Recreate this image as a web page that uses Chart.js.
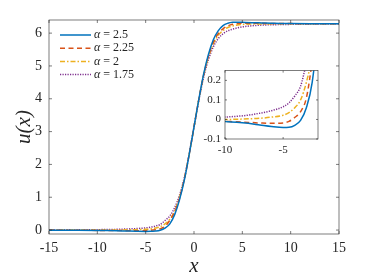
<!DOCTYPE html>
<html>
<head>
<meta charset="utf-8">
<script src="https://cdn.jsdelivr.net/npm/chart.js@4.4.1/dist/chart.umd.min.js"></script>
<style>
  html, body { margin: 0; padding: 0; background: #fff; }
  #wrap { position: relative; width: 374px; height: 280px; }
  #main { position: absolute; left: 0; top: 0; }
  #inset { position: absolute; left: 190px; top: 60px; }
</style>
</head>
<body>
<div id="wrap">
  <canvas id="main" width="374" height="280"></canvas>
  <canvas id="inset" width="135" height="100"></canvas>
</div>
<script>
// x sample points
const X_VALUES = [-15, -12, -10, -9, -8, -7, -6, -5, -4.5, -4, -3.5, -3, -2.5, -2, -1.5, -1, -0.5, 0,
    0.5, 1, 1.5, 2, 2.5, 3, 3.5, 4, 4.5, 5, 6, 7, 8, 9, 10, 12, 15];

// u(x) for each alpha
const U_ALPHA_250 = [-0.002, -0.005, -0.01, -0.014, -0.02, -0.028, -0.036, -0.041, -0.04, -0.03, -0.005, 0.06, 0.19, 0.47, 0.92, 1.52, 2.3, 3.14,
    3.98, 4.76, 5.36, 5.8, 6.07, 6.23, 6.3, 6.33, 6.335, 6.33, 6.32, 6.312, 6.304, 6.297, 6.293, 6.288, 6.285];
const U_ALPHA_225 = [0.0, -0.005, -0.01, -0.012, -0.015, -0.018, -0.02, -0.018, -0.01, 0.01, 0.04, 0.11, 0.3, 0.55, 0.97, 1.55, 2.3, 3.14,
    3.98, 4.73, 5.3, 5.72, 5.98, 6.13, 6.22, 6.27, 6.29, 6.3, 6.3, 6.298, 6.295, 6.292, 6.29, 6.287, 6.285];
const U_ALPHA_200 = [0.0, 0.0, 0.0, 0.001, 0.003, 0.006, 0.012, 0.022, 0.035, 0.06, 0.1, 0.19, 0.33, 0.58, 0.99, 1.56, 2.3, 3.14,
    3.98, 4.72, 5.28, 5.68, 5.93, 6.08, 6.17, 6.22, 6.25, 6.265, 6.276, 6.28, 6.282, 6.283, 6.283, 6.283, 6.283];
const U_ALPHA_175 = [0.004, 0.008, 0.012, 0.016, 0.022, 0.032, 0.045, 0.065, 0.085, 0.12, 0.17, 0.29, 0.43, 0.68, 1.06, 1.6, 2.32, 3.14,
    3.96, 4.66, 5.2, 5.58, 5.83, 5.98, 6.07, 6.12, 6.16, 6.19, 6.225, 6.245, 6.255, 6.262, 6.267, 6.274, 6.279];

const ALPHA_LABELS = ['2.5', '2.25', '2', '1.75'];

const MAIN_X_TICKS = [-15, -10, -5, 0, 5, 10, 15];
const MAIN_Y_TICKS = [0, 1, 2, 3, 4, 5, 6];
const INSET_X_TICKS = [-10, -5];
const INSET_Y_TICKS = [-0.1, 0, 0.1, 0.2];

const SERIES = [U_ALPHA_250, U_ALPHA_225, U_ALPHA_200, U_ALPHA_175];
const COLORS = ['#0072BD', '#D95319', '#EDB120', '#7E2F8E'];
const DASHES = [[], [5, 3.5], [5, 2, 1.5, 2], [1.2, 1.3]];

const AXIS_COLOR = '#262626';
const SERIF = "'Liberation Serif', 'DejaVu Serif', serif";

function makeDatasets() {
    return SERIES.map((ys, i) => ({
        label: 'α = ' + ALPHA_LABELS[i],
        data: X_VALUES.map((x, k) => ({ x: x, y: ys[k] })),
        borderColor: COLORS[i],
        borderDash: DASHES[i],
        borderWidth: 1.5,
        pointRadius: 0,
        fill: false,
        cubicInterpolationMode: 'monotone',
    }));
}

/** MATLAB-ga o'xshash quti va ichki tick chiziqlari */
const boxAxes = {
    id: 'boxAxes',
    beforeDraw(chart) {
        const a = chart.chartArea, ctx = chart.ctx;
        ctx.save();
        ctx.fillStyle = '#fff';
        ctx.fillRect(a.left, a.top, a.right - a.left, a.bottom - a.top);
        ctx.restore();
    },
    afterDraw(chart, args, opts) {
        const a = chart.chartArea, ctx = chart.ctx;
        const len = opts.tickLen || 3;
        ctx.save();
        ctx.strokeStyle = AXIS_COLOR;
        ctx.lineWidth = 0.6;
        ctx.strokeRect(a.left, a.top, a.right - a.left, a.bottom - a.top);
        ctx.beginPath();
        chart.scales.x.ticks.forEach(t => {
            const px = chart.scales.x.getPixelForValue(t.value);
            ctx.moveTo(px, a.bottom); ctx.lineTo(px, a.bottom - len);
            ctx.moveTo(px, a.top); ctx.lineTo(px, a.top + len);
        });
        chart.scales.y.ticks.forEach(t => {
            const py = chart.scales.y.getPixelForValue(t.value);
            ctx.moveTo(a.left, py); ctx.lineTo(a.left + len, py);
            ctx.moveTo(a.right, py); ctx.lineTo(a.right - len, py);
        });
        ctx.stroke();

        if (opts.titles) {
            ctx.fillStyle = AXIS_COLOR;
            ctx.font = 'italic 21px ' + SERIF;
            ctx.textAlign = 'center';
            ctx.textBaseline = 'middle';
            ctx.fillText('x', (a.left + a.right) / 2, 266);
            ctx.save();
            ctx.translate(24, (a.top + a.bottom) / 2);
            ctx.rotate(-Math.PI / 2);
            ctx.fillText('u(x)', 0, 0);
            ctx.restore();
        }

        if (opts.legend) {
            chart.data.datasets.forEach((ds, i) => {
                const y = 35 + i * 13.2;
                ctx.strokeStyle = ds.borderColor;
                ctx.lineWidth = 1.5;
                ctx.setLineDash(ds.borderDash);
                ctx.beginPath();
                ctx.moveTo(60, y); ctx.lineTo(91, y);
                ctx.stroke();
                ctx.setLineDash([]);
                ctx.fillStyle = AXIS_COLOR;
                ctx.textBaseline = 'middle';
                ctx.textAlign = 'left';
                ctx.font = 'italic 12px ' + SERIF;
                ctx.fillText('α', 94, y);
                const w = ctx.measureText('α').width;
                ctx.font = '12px ' + SERIF;
                ctx.fillText(' = ' + ALPHA_LABELS[i], 94 + w, y);
            });
        }
        ctx.restore();
    },
};

function axisOpts(min, max, tickValues, fontSize, padding, fixedSize, isX) {
    return {
        type: 'linear',
        min: min,
        max: max,
        grid: { display: false, drawTicks: false },
        border: { display: false },
        afterBuildTicks(scale) { scale.ticks = tickValues.map(v => ({ value: v })); },
        afterFit(scale) {
            if (isX) scale.height = fixedSize; else scale.width = fixedSize;
        },
        ticks: {
            color: AXIS_COLOR,
            font: { family: SERIF, size: fontSize },
            padding: padding,
            maxRotation: 0,
            autoSkip: false,
            callback: v => String(Math.round(v * 100) / 100),
        },
    };
}

new Chart(document.getElementById('main'), {
    type: 'line',
    data: { datasets: makeDatasets() },
    options: {
        responsive: false,
        animation: false,
        events: [],
        layout: { padding: { top: 20, right: 35, left: 0, bottom: 0 } },
        scales: {
            x: axisOpts(-15, 15, MAIN_X_TICKS, 14, 6, 46, true),
            y: axisOpts(-0.12, 6.4, MAIN_Y_TICKS, 14, 7, 49, false),
        },
        plugins: {
            legend: { display: false },
            tooltip: { enabled: false },
            boxAxes: { tickLen: 3, legend: true, titles: true },
        },
    },
    plugins: [boxAxes],
});

new Chart(document.getElementById('inset'), {
    type: 'line',
    data: { datasets: makeDatasets() },
    options: {
        responsive: false,
        animation: false,
        events: [],
        layout: { padding: { top: 9, right: 7, left: 0, bottom: 0 } },
        scales: {
            x: axisOpts(-10, -2, INSET_X_TICKS, 11, 5, 21, true),
            y: axisOpts(-0.1, 0.25, INSET_Y_TICKS, 11, 4, 35, false),
        },
        plugins: {
            legend: { display: false },
            tooltip: { enabled: false },
            boxAxes: { tickLen: 2 },
        },
    },
    plugins: [boxAxes],
});
</script>
</body>
</html>
